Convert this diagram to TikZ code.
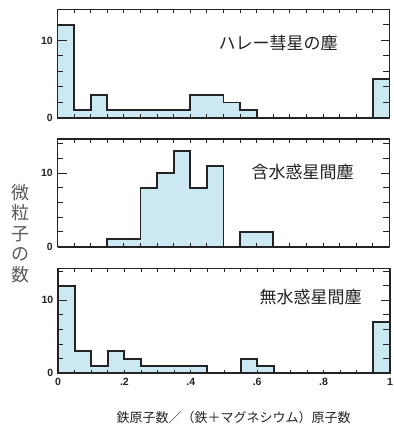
\documentclass[tikz,border=0pt]{standalone}
\usepackage{fontspec}
\setmainfont{Liberation Sans}
\newfontfamily\jp{Noto Sans CJK JP}
\definecolor{barfill}{RGB}{204,232,242}
\definecolor{ink}{RGB}{35,35,35}
\newcommand\histpanel[7]{% #1 name, #2 x0, #3 ybase, #4 bin width, #5 y scale, #6 ymax, #7 data
  \begin{scope}[shift={(#2,427-#3)}, x=#4pt, y=#5pt]
    \fill[barfill] (0,0) \foreach \v [count=\i from 0] in {#7} { -- (\i,\v) -- (\i+1,\v) } -- (20,0) -- cycle;
    \foreach \i in {1,...,19} {
      \draw[tickl] (\i,0) -- ++(0,3.5pt);
      \draw[tickl] (\i,#6) -- ++(0,-4pt);
    }
    \foreach \v in {2,4,...,14} {
      \pgfmathparse{\v<#6-0.3?1:0}
      \ifnum\pgfmathresult=1
        \draw[tickl] (0,\v) -- ++(5pt,0);
        \draw[tickl] (20,\v) -- ++(-7pt,0);
      \fi
    }
    \draw[tickl] (0,10) -- ++(9pt,0);
    \draw[tickl] (20,10) -- ++(-9pt,0);
    \draw[hist] (0,0) \foreach \v [count=\i from 0] in {#7} { -- (\i,\v) -- (\i+1,\v) } -- (20,0) -- cycle;
    \draw[frame] (0,0) rectangle (20,#6);
    \coordinate (#1-origin) at (0,0);
    \node[num,anchor=east] (#1-ten) at ([xshift=-4.5pt]0,10) {10};
    \node[num,anchor=east] (#1-zero) at ([xshift=-4.5pt]0,0) {0};
  \end{scope}
}
\begin{document}
\begin{tikzpicture}[x=1pt,y=1pt,
  frame/.style={draw=ink,line width=1.3pt},
  hist/.style={draw=ink,line width=1.9pt,line join=miter},
  tickl/.style={draw=ink,line width=1pt},
  num/.style={font=\bfseries\fontsize{10.5}{10.5}\selectfont,text=ink,inner sep=0pt},
  title/.style={font=\jp\fontsize{17}{17}\selectfont,text=ink,inner sep=0pt}]
\useasboundingbox[fill=white] (0,0) rectangle (393,427);

\histpanel{p1}{57.5}{118}{16.6}{7.75}{14}{12,1,3,1,1,1,1,1,3,3,2,1,0,0,0,0,0,0,0,5}
\histpanel{p2}{57.5}{246.7}{16.6}{7.35}{14.65}{0,0,0,1,1,8,10,13,8,11,0,2,2,0,0,0,0,0,0,0}
\histpanel{p3}{58}{373.3}{16.6}{7.3}{14.4}{12,3,1,3,2,1,1,1,1,0,0,2,1,0,0,0,0,0,0,7}

\node[title] (t1) at (278,427-43) {ハレー彗星の塵};
\node[title] (t2) at (302.5,427-171.7) {含水惑星間塵};
\node[title] (t3) at (310.5,427-296.7) {無水惑星間塵};

\foreach \k/\lab in {0/0,4/.2,8/.4,12/.6,16/.8,20/1} {
  \node[num,anchor=north] (xl\k) at (58+\k*16.6,427-378) {\lab};
}

\node[font=\jp\fontsize{13}{13}\selectfont,text=ink,inner sep=0pt] (xtitle) at (233.5,427-418) {鉄原子数／（鉄＋マグネシウム）原子数};
\node[font=\jp\fontsize{18}{20.5}\selectfont,align=center,text=ink!75,inner sep=0pt] (ytitle) at (20,427-233.5) {微\\粒\\子\\の\\数};
\end{tikzpicture}
\end{document}
